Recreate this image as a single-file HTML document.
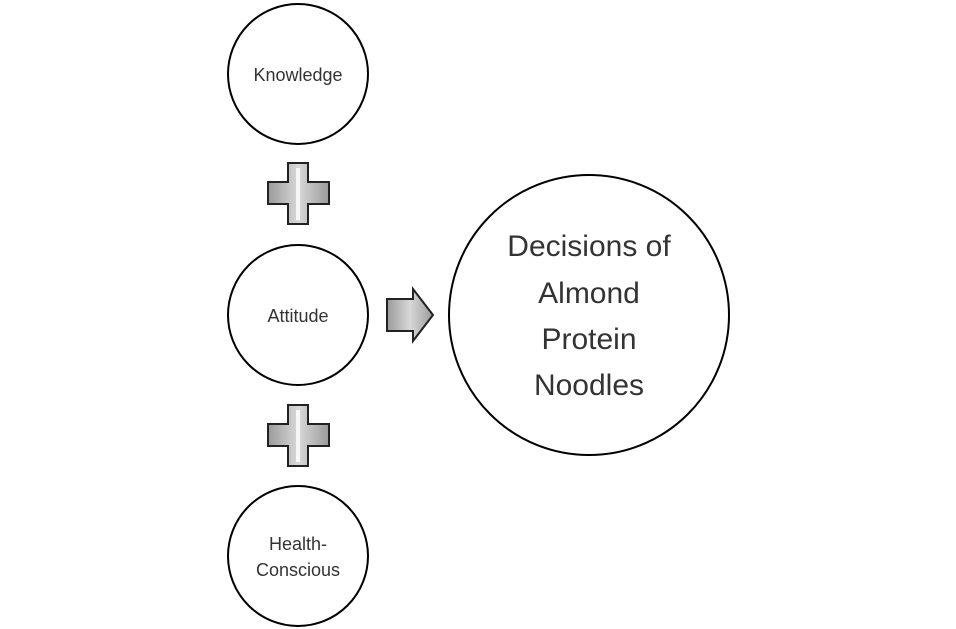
<!DOCTYPE html>
<html><head><style>
html,body{margin:0;padding:0;background:#fff;width:956px;height:629px;overflow:hidden}
</style></head><body>
<svg width="956" height="629" viewBox="0 0 956 629" xmlns="http://www.w3.org/2000/svg">
<defs>
<linearGradient id="g" x1="0" y1="0" x2="1" y2="0">
<stop offset="0" stop-color="#9a9a9a"/><stop offset="0.5" stop-color="#d8d8d8"/><stop offset="1" stop-color="#9a9a9a"/>
</linearGradient>
</defs>
<g fill="#fff" stroke="#000" stroke-width="2">
<circle cx="298" cy="74" r="70"/>
<circle cx="298" cy="315" r="70"/>
<circle cx="298" cy="556" r="70"/>
<circle cx="589" cy="315" r="140"/>
</g>
<g fill="url(#g)" stroke="#222" stroke-width="2">
<path d="M288 163h20v19h21v22h-21v20h-20v-20h-20v-22h20z"/>
<path d="M288 405h20v19h21v22h-21v20h-20v-20h-20v-22h20z"/>
<path d="M387 299h26v-10l20 26l-20 26v-10h-26z"/>
</g>
<g fill="#fff" opacity="0.8">
<rect x="296" y="168" width="4" height="52"/>
<rect x="296" y="410" width="4" height="52"/>
</g>
<g font-family="Liberation Sans, sans-serif" fill="#333" text-anchor="middle">
<text x="298" y="81" font-size="18">Knowledge</text>
<text x="298" y="322" font-size="18">Attitude</text>
<text x="298" y="550" font-size="18">Health-</text>
<text x="298" y="576" font-size="18">Conscious</text>
<text x="589" y="256" font-size="30">Decisions of</text>
<text x="589" y="303" font-size="30">Almond</text>
<text x="589" y="349" font-size="30">Protein</text>
<text x="589" y="395" font-size="30">Noodles</text>
</g>
</svg>
</body></html>
